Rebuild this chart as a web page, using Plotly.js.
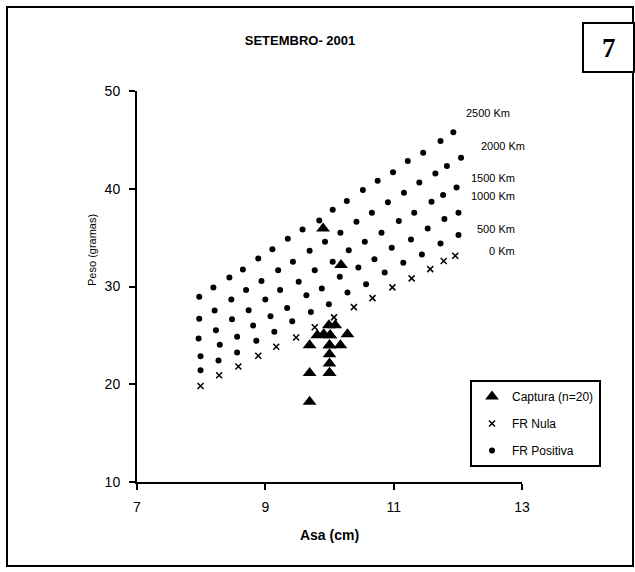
<!DOCTYPE html>
<html>
<head>
<meta charset="utf-8">
<script src="https://cdn.plot.ly/plotly-3.0.1.min.js"></script>
<style>html,body{margin:0;padding:0;background:#fff;}#chart{width:635px;height:572px;}</style>
</head>
<body>
<div id="chart"></div>
<script>
// ---- Data ----
const xTicks = [7, 9, 11, 13];
const yTicks = [10, 20, 30, 40, 50];

// FR Positiva (500 .. 2500 Km)
const km2500X = [7.97, 8.19, 8.44, 8.65, 8.89, 9.11, 9.35, 9.58, 9.84, 10.05, 10.27, 10.52, 10.75, 10.99, 11.22, 11.46, 11.73, 11.93];
const km2500Y = [28.94, 29.90, 30.91, 31.75, 32.87, 33.82, 34.88, 35.84, 36.74, 37.85, 38.74, 39.86, 40.82, 41.68, 42.83, 43.68, 44.88, 45.77];
const km2000X = [7.97, 8.21, 8.47, 8.70, 8.94, 9.20, 9.43, 9.69, 9.93, 10.17, 10.42, 10.66, 10.91, 11.16, 11.40, 11.65, 11.83, 12.05];
const km2000Y = [26.69, 27.55, 28.67, 29.63, 30.55, 31.67, 32.52, 33.65, 34.57, 35.49, 36.62, 37.54, 38.61, 39.59, 40.65, 41.57, 42.32, 43.17];
const km1500X = [7.96, 8.23, 8.48, 8.74, 9.00, 9.23, 9.52, 9.77, 10.05, 10.30, 10.55, 10.81, 11.08, 11.32, 11.59, 11.77, 11.98];
const km1500Y = [24.68, 25.53, 26.66, 27.58, 28.67, 29.63, 30.48, 31.67, 32.52, 33.72, 34.57, 35.49, 36.69, 37.54, 38.67, 39.35, 40.14];
const km1000X = [7.99, 8.29, 8.56, 8.81, 9.08, 9.34, 9.64, 9.88, 10.16, 10.45, 10.70, 10.97, 11.27, 11.53, 11.79, 12.01];
const km1000Y = [22.87, 24.03, 24.87, 26.01, 26.96, 27.81, 29.11, 29.80, 30.99, 31.95, 32.80, 33.96, 34.82, 35.94, 36.90, 37.54];
const km500X = [7.99, 8.27, 8.56, 8.86, 9.14, 9.42, 9.71, 9.99, 10.28, 10.57, 10.86, 11.15, 11.44, 11.73, 12.01];
const km500Y = [21.44, 22.43, 23.25, 24.44, 25.36, 26.45, 27.40, 28.19, 29.39, 30.24, 31.44, 32.42, 33.28, 34.41, 35.26];

// FR Nula (0 Km)
const km0X = [7.99, 8.28, 8.58, 8.89, 9.17, 9.48, 9.77, 10.07, 10.38, 10.67, 10.98, 11.28, 11.57, 11.78, 11.96];
const km0Y = [19.83, 20.93, 21.82, 22.91, 23.83, 24.79, 25.84, 26.84, 27.89, 28.81, 29.91, 30.83, 31.78, 32.60, 33.14];

// Captura (n=20)
const capturaX = [9.90, 10.18, 9.99, 10.09, 9.81, 9.91, 10.01, 10.28, 9.69, 10.00, 10.17, 10.00, 10.00, 9.69, 10.00, 9.69, 10.00, 10.00, 9.91, 10.01];
const capturaY = [35.94, 32.19, 26.04, 26.04, 25.02, 25.10, 25.02, 25.12, 24.00, 24.00, 24.00, 23.07, 22.12, 21.16, 21.16, 18.20, 24.00, 21.16, 25.10, 25.02];

const seriesNames = ["Captura (n=20)", "FR Nula", "FR Positiva"];
const distLabels = ["2500 Km", "2000 Km", "1500 Km", "1000 Km", "500 Km", "0 Km"];

// ---- Layout helpers (pixel -> paper) ----
const L = 137, R = 522, T = 91, B = 482;
const px = v => (v - L) / (R - L);
const py = v => (B - v) / (B - T);
const FONT = "Liberation Sans, Arial, sans-serif";

const posX = [].concat(km2500X, km2000X, km1500X, km1000X, km500X);
const posY = [].concat(km2500Y, km2000Y, km1500Y, km1000Y, km500Y);

const traces = [
  {x: posX, y: posY, type: "scatter", mode: "markers", name: seriesNames[2], legendgroup: "g3", legendrank: 3,
   marker: {symbol: "circle", size: 6, color: "#000"}},
  {x: km0X, y: km0Y, type: "scatter", mode: "markers", name: seriesNames[1], legendgroup: "g2", legendrank: 2,
   marker: {symbol: "x-thin", size: 6, color: "#000", line: {width: 1.5, color: "#000"}}},
  {x: capturaX, y: capturaY, type: "scatter", mode: "markers", name: seriesNames[0], legendgroup: "g1", legendrank: 1,
   marker: {symbol: "triangle-up", size: 12, color: "#000"}}
];

const labelPos = [[512, 113], [527, 146], [517, 178], [517, 196], [517, 229], [517, 251]];
const annotations = distLabels.map((t, i) => ({
  text: t, xref: "paper", yref: "paper", x: px(labelPos[i][0]), y: py(labelPos[i][1]),
  xanchor: "right", yanchor: "middle", showarrow: false, font: {family: FONT, size: 11, color: "#000"}
}));
annotations.push({
  text: "Peso (gramas)", xref: "paper", yref: "paper", x: px(92), y: py(250), textangle: -90,
  xanchor: "center", yanchor: "middle", showarrow: false, font: {family: FONT, size: 11, color: "#000"}
});
annotations.push({
  text: "<b>7</b>", xref: "paper", yref: "paper", x: px(608.5), y: py(48), xanchor: "center", yanchor: "middle",
  showarrow: false, font: {family: "Liberation Serif, Times New Roman, serif", size: 27, color: "#000"}
});

const shapes = [
  {type: "rect", xref: "paper", yref: "paper", x0: px(7), x1: px(633), y0: py(7), y1: py(566),
   line: {color: "#000", width: 2}},
  {type: "rect", xref: "paper", yref: "paper", x0: px(583), x1: px(634), y0: py(23), y1: py(72),
   line: {color: "#000", width: 2}, fillcolor: "#fff"}
];

const layout = {
  width: 635, height: 572, autosize: false,
  margin: {l: L, r: 635 - R, t: T, b: 572 - B, pad: 0},
  paper_bgcolor: "#fff", plot_bgcolor: "#fff",
  font: {family: FONT, color: "#000"},
  title: {text: "<b>SETEMBRO- 2001</b>", x: 300 / 635, xref: "container", xanchor: "center",
          y: 1 - 40 / 572, yref: "container", yanchor: "middle", font: {family: FONT, size: 13, color: "#000"}},
  xaxis: {range: [7, 13], tickvals: xTicks, ticktext: xTicks.map(String), showgrid: false, zeroline: false,
          showline: true, linecolor: "#000", linewidth: 2, ticks: "outside", ticklen: 6, tickwidth: 2, tickcolor: "#000",
          tickfont: {family: FONT, size: 14, color: "#000"}, ticklabelstandoff: 5,
          title: {text: "<b>Asa (cm)</b>", font: {family: FONT, size: 14, color: "#000"}, standoff: 16}},
  yaxis: {range: [10, 50], tickvals: yTicks, ticktext: yTicks.map(String), showgrid: false, zeroline: false,
          showline: true, linecolor: "#000", linewidth: 2, ticks: "outside", ticklen: 6, tickwidth: 2, tickcolor: "#000",
          tickfont: {family: FONT, size: 14, color: "#000"}, ticklabelstandoff: 6},
  showlegend: true,
  legend: {x: px(470), y: py(380), xanchor: "left", yanchor: "top", bgcolor: "#fff",
           bordercolor: "#000", borderwidth: 2, font: {family: FONT, size: 12, color: "#000"},
           traceorder: "grouped", tracegroupgap: 8, itemwidth: 30},
  annotations: annotations,
  shapes: shapes
};

Plotly.newPlot("chart", traces, layout, {displayModeBar: false, staticPlot: true});
</script>
</body>
</html>
